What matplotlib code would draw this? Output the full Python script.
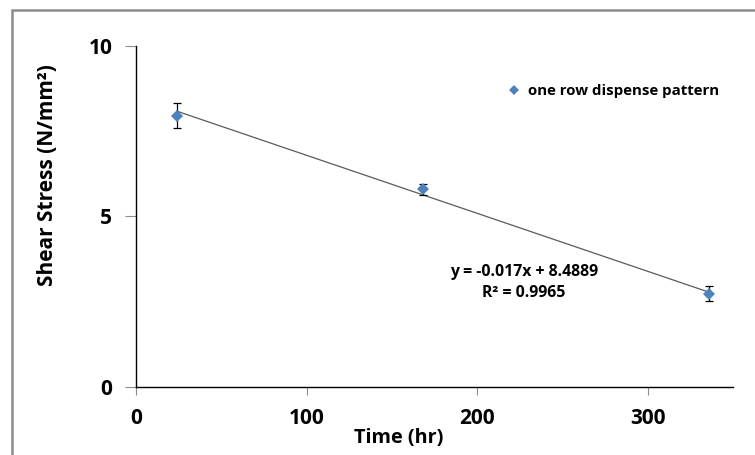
import numpy as np
import matplotlib.pyplot as plt
from matplotlib.patches import Rectangle

# data
time_hr = [24, 168, 336]
shear_stress = [7.95, 5.80, 2.73]
stress_err = [0.36, 0.16, 0.22]

# linear trendline shown on the chart
slope = -0.017
intercept = 8.4889
r_squared = 0.9965

x_ticks = [0, 100, 200, 300]
y_ticks = [0, 5, 10]

plt.rcParams['font.family'] = ['Open Sans', 'DejaVu Sans']
plt.rcParams['font.weight'] = 'bold'

fig = plt.figure(figsize=(7.55, 4.55), dpi=100)
ax = fig.add_axes([136 / 755, 1 - 387 / 455, 597 / 755, 341.3 / 455])

# outer frame of the chart area
fig.patches.append(Rectangle((12 / 755, -0.1), 1.2, 1 - 10 / 455 + 0.1,
                             transform=fig.transFigure, fill=False,
                             edgecolor='#8c8c8c', lw=1.8, zorder=0))

xs = np.array([time_hr[0], time_hr[-1]])
ax.plot(xs, slope * xs + intercept, color='#5a5a5a', lw=0.9, zorder=2)

ax.errorbar(time_hr, shear_stress, yerr=stress_err, fmt='none',
            ecolor='black', elinewidth=0.9, capsize=3, capthick=0.9, zorder=3)
ax.plot(time_hr, shear_stress, 'D', color='#4f81bd', markersize=6.5,
        markeredgewidth=0, label='one row dispense pattern', zorder=4)

ax.set_xlim(0, 350)
ax.set_ylim(0, 10)
ax.set_xticks(x_ticks, labels=[str(t) for t in x_ticks],
              fontsize=15, fontweight='bold')
ax.set_yticks(y_ticks, labels=[str(t) for t in y_ticks],
              fontsize=15, fontweight='bold')
ax.tick_params(axis='both', direction='out', color='#8c8c8c')
ax.tick_params(axis='y', length=8, pad=9)
ax.tick_params(axis='x', length=6, pad=9)

for side in ['top', 'right']:
    ax.spines[side].set_visible(False)
for side in ['left', 'bottom']:
    ax.spines[side].set_color('black')
    ax.spines[side].set_linewidth(1.0)

fig.text(399 / 755, 1 - 438 / 455, 'Time (hr)', ha='center', va='center',
         fontsize=14.3, fontweight='bold')
fig.text(48 / 755, 1 - 175 / 455, 'Shear Stress (N/mm\u00b2)', ha='center',
         va='center', rotation=90, fontsize=15, fontweight='bold')

ax.text(524 / 755, 1 - 272 / 455, f'y = {slope}x + {intercept}',
        transform=fig.transFigure, ha='center', va='center',
        fontsize=11.4, fontweight='bold')
ax.text(524 / 755, 1 - 293 / 455, f'R\u00b2 = {r_squared}',
        transform=fig.transFigure, ha='center', va='center',
        fontsize=11.4, fontweight='bold')

ax.legend(loc='center left', bbox_to_anchor=(508 / 755, 1 - 91 / 455),
          bbox_transform=fig.transFigure, frameon=False,
          handlelength=0.8, handletextpad=0.5, borderpad=0,
          borderaxespad=0, markerscale=0.8, prop={'weight': 'bold', 'size': 10.8})

fig.savefig('out.png', dpi=100)
